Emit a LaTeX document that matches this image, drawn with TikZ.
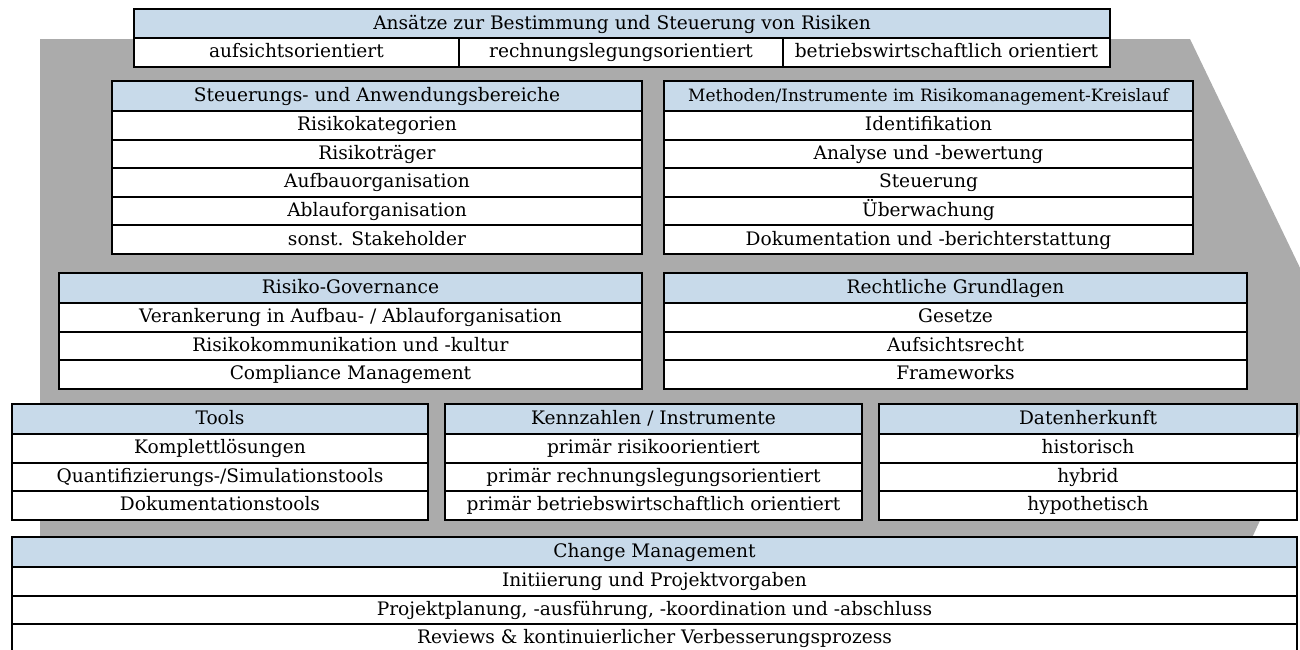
\documentclass[tikz,border=0pt]{standalone}
\usepackage{fontspec}
\setmainfont{DejaVu Serif}
\usetikzlibrary{positioning}
\definecolor{headblue}{HTML}{C8DAEA}
\definecolor{backgrey}{HTML}{ABABAB}
\newcommand\colorHead{headblue}
\newcommand\colorBack{backgrey}
\newcommand\headH{30}
\newcommand\rowH{28.6}
\tikzset{
	cell/.style={draw=black, line width=1pt, inner sep=0pt, outer sep=0pt,
		text height=0.75em, text depth=0.22em, font=\fontsize{9.3}{10}\selectfont},
	panelhead/.style={cell, fill=\colorHead, line width=1.2pt, minimum height=\headH*0.5pt},
	panelrow/.style={cell, fill=white, minimum height=\rowH*0.5pt}
}
% #1 name, #2 x, #3 y, #4 width, #5 header, #6 rows
\newcommand\drawPanel[6]{
	\node[panelhead, minimum width=#4*0.5pt, anchor=north west] (#1-0) at (#2,#3) {#5};
	\foreach \txt [count=\i] in {#6}{
		\pgfmathtruncatemacro\j{\i-1}
		\node[panelrow, minimum width=#4*0.5pt, below=0pt of #1-\j] (#1-\i) {\txt};
	}
}

\begin{document}
\begin{tikzpicture}[x=0.5pt, y=-0.5pt]
	\useasboundingbox (0,0) rectangle (1300,649);
	
	% grey background arrow
	\fill[\colorBack] (40,39) -- (1190,39) -- (1339,349) -- (1251,540) -- (40,540) -- cycle;
	
	% top approaches
	\node[panelhead, minimum width=976*0.5pt, anchor=north west] (ansatz-0) at (134,9)
		{Ansätze zur Bestimmung und Steuerung von Risiken};
	\node[panelrow, minimum width=325*0.5pt, anchor=north west] (ansatz-1) at (134,38) {aufsichtsorientiert};
	\node[panelrow, minimum width=324*0.5pt, anchor=north west] (ansatz-2) at (459,38) {rechnungslegungsorientiert};
	\node[panelrow, minimum width=327*0.5pt, anchor=north west] (ansatz-3) at (783,38) {betriebswirtschaftlich orientiert};
	
	\drawPanel{steuer}{112}{81}{530}{Steuerungs- und Anwendungsbereiche}
		{Risikokategorien, Risikoträger, Aufbauorganisation, Ablauforganisation, sonst. Stakeholder}
	\drawPanel{methode}{664}{81}{529}{\fontsize{8.5}{9}\selectfont Methoden/Instrumente im Risikomanagement-Kreislauf}
		{Identifikation, Analyse und -bewertung, Steuerung, Überwachung, Dokumentation und -berichterstattung}
	
	\drawPanel{govern}{59}{273}{583}{Risiko-Governance}
		{Verankerung in Aufbau- / Ablauforganisation, Risikokommunikation und -kultur, Compliance Management}
	\drawPanel{recht}{664}{273}{583}{Rechtliche Grundlagen}
		{Gesetze, Aufsichtsrecht, Frameworks}
	
	\drawPanel{tools}{12}{404}{416}{Tools}
		{Komplettlösungen, Quantifizierungs-/Simulationstools, Dokumentationstools}
	\drawPanel{kenn}{445}{404}{417}{Kennzahlen / Instrumente}
		{primär risikoorientiert, primär rechnungslegungsorientiert, primär betriebswirtschaftlich orientiert}
	\drawPanel{daten}{879}{404}{418}{Datenherkunft}
		{historisch, hybrid, hypothetisch}
	
	\drawPanel{change}{12}{537}{1285}{Change Management}
		{Initiierung und Projektvorgaben, {Projektplanung, -ausführung, -koordination und -abschluss}, Reviews \& kontinuierlicher Verbesserungsprozess}
\end{tikzpicture}
\end{document}
